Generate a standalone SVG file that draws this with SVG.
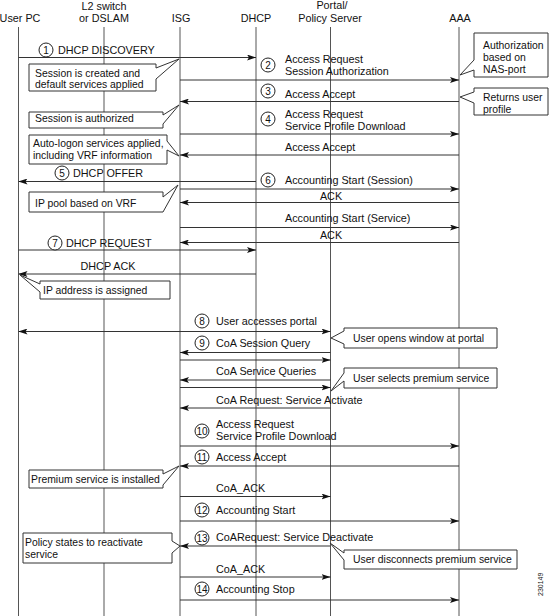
<svg xmlns="http://www.w3.org/2000/svg" width="550" height="616" viewBox="0 0 550 616">
<style>
text{font-family:"Liberation Sans",Arial,sans-serif;font-size:10.8px;fill:#111}
.mid{text-anchor:middle}
.life{stroke:#555;stroke-width:1}
.l2{stroke:#aaa;stroke-width:2}
.msg{stroke:#333;stroke-width:1;fill:none;marker-end:url(#ah)}
.bi{marker-start:url(#ah)}
.call{fill:#fff;stroke:#333;stroke-width:1}
#callouts text{font-size:10.4px}
.num circle{fill:#fff;stroke:#222;stroke-width:1}
.num text{font-size:10px;text-anchor:middle}
</style>
<defs>
<marker id="ah" viewBox="0 0 9 6" refX="9" refY="3" markerWidth="9" markerHeight="6" markerUnits="userSpaceOnUse" orient="auto-start-reverse">
<path d="M0,0 L9,3 L0,6 L2,3 Z" fill="#111"/>
</marker>
</defs>
<rect width="550" height="616" fill="#fff"/>
<g id="lifelines">
<g id="userpc"><text class="mid" x="20" y="22">User PC</text><line class="life" x1="18.5" y1="27" x2="18.5" y2="616"/></g>
<g id="l2switch"><text class="mid" x="104" y="10">L2 switch</text><text class="mid" x="104" y="22">or DSLAM</text><line class="l2" x1="104" y1="27" x2="104" y2="616"/></g>
<g id="isg"><text class="mid" x="181" y="22">ISG</text><line class="life" x1="180" y1="27" x2="180" y2="616"/></g>
<g id="dhcp"><text class="mid" x="256" y="22">DHCP</text><line class="life" x1="256" y1="27" x2="256" y2="616"/></g>
<g id="portal"><text class="mid" x="332" y="9">Portal/</text><text class="mid" x="330" y="22">Policy Server</text><line class="life" x1="330.5" y1="27" x2="330.5" y2="616"/></g>
<g id="aaa"><text class="mid" x="460" y="22">AAA</text><line class="life" x1="459" y1="27" x2="459" y2="616"/></g>
</g>
<g id="connectors">
<line class="msg" x1="18.5" y1="57.5" x2="256" y2="57.5"/>
<line class="msg" x1="180" y1="80" x2="459" y2="80"/>
<line class="msg" x1="459" y1="101.5" x2="180" y2="101.5"/>
<line class="msg" x1="180" y1="134" x2="459" y2="134"/>
<line class="msg" x1="459" y1="155" x2="180" y2="155"/>
<line class="msg" x1="256" y1="181.5" x2="18.5" y2="181.5"/>
<line class="msg" x1="180" y1="189" x2="459" y2="189"/>
<line class="msg" x1="459" y1="202.5" x2="180" y2="202.5"/>
<line class="msg" x1="180" y1="227.5" x2="459" y2="227.5"/>
<line class="msg" x1="459" y1="242.5" x2="180" y2="242.5"/>
<line class="msg" x1="18.5" y1="250" x2="256" y2="250"/>
<line class="msg" x1="256" y1="274" x2="18.5" y2="274"/>
<line class="msg bi" x1="18.5" y1="331.5" x2="330.5" y2="331.5"/>
<line class="msg" x1="330.5" y1="352.5" x2="180" y2="352.5"/>
<line class="msg" x1="180" y1="360" x2="330.5" y2="360"/>
<line class="msg" x1="330.5" y1="380" x2="180" y2="380"/>
<line class="msg" x1="180" y1="387.5" x2="330.5" y2="387.5"/>
<line class="msg" x1="330.5" y1="408" x2="180" y2="408"/>
<line class="msg" x1="180" y1="446" x2="459" y2="446"/>
<line class="msg" x1="459" y1="466" x2="180" y2="466"/>
<line class="msg" x1="180" y1="496.5" x2="330.5" y2="496.5"/>
<line class="msg" x1="180" y1="521" x2="459" y2="521"/>
<line class="msg" x1="330.5" y1="546" x2="180" y2="546"/>
<line class="msg" x1="180" y1="577" x2="330.5" y2="577"/>
<line class="msg" x1="180" y1="600" x2="459" y2="600"/>
</g>
<g id="labels">
<text x="58" y="54">DHCP DISCOVERY</text>
<text x="285" y="63">Access Request</text><text x="285" y="75">Session Authorization</text>
<text x="285" y="98">Access Accept</text>
<text x="285" y="118">Access Request</text><text x="285" y="130">Service Profile Download</text>
<text x="285" y="151">Access Accept</text>
<text x="73" y="177">DHCP OFFER</text>
<text x="285" y="184">Accounting Start (Session)</text>
<text class="mid" x="331" y="200">ACK</text>
<text x="285" y="222">Accounting Start (Service)</text>
<text class="mid" x="331" y="239">ACK</text>
<text x="66" y="247">DHCP REQUEST</text>
<text class="mid" x="108" y="270">DHCP ACK</text>
<text x="216" y="325">User accesses portal</text>
<text x="216" y="347">CoA Session Query</text>
<text x="216" y="375">CoA Service Queries</text>
<text x="216" y="404">CoA Request: Service Activate</text>
<text x="216" y="428">Access Request</text><text x="216" y="440">Service Profile Download</text>
<text x="216" y="461">Access Accept</text>
<text x="216" y="492">CoA_ACK</text>
<text x="216" y="514">Accounting Start</text>
<text x="216" y="541">CoARequest: Service Deactivate</text>
<text x="216" y="573">CoA_ACK</text>
<text x="216" y="593">Accounting Stop</text>
</g>
<g id="steps" class="num">
<g id="s1"><circle cx="46" cy="50" r="7"/><text x="46" y="53.5">1</text></g>
<g id="s2"><circle cx="268" cy="65" r="7"/><text x="268" y="68.5">2</text></g>
<g id="s3"><circle cx="268" cy="91" r="7"/><text x="268" y="94.5">3</text></g>
<g id="s4"><circle cx="268" cy="119" r="7"/><text x="268" y="122.5">4</text></g>
<g id="s5"><circle cx="62" cy="173" r="7"/><text x="62" y="176.5">5</text></g>
<g id="s6"><circle cx="268" cy="180" r="7"/><text x="268" y="183.5">6</text></g>
<g id="s7"><circle cx="55" cy="243" r="7"/><text x="55" y="246.5">7</text></g>
<g id="s8"><circle cx="202" cy="321" r="7"/><text x="202" y="324.5">8</text></g>
<g id="s9"><circle cx="202" cy="343" r="7"/><text x="202" y="346.5">9</text></g>
<g id="s10"><circle cx="202" cy="431" r="7"/><text x="202" y="434.5">10</text></g>
<g id="s11"><circle cx="202" cy="457" r="7"/><text x="202" y="460.5">11</text></g>
<g id="s12"><circle cx="202" cy="510" r="7"/><text x="202" y="513.5">12</text></g>
<g id="s13"><circle cx="202" cy="538" r="7"/><text x="202" y="541.5">13</text></g>
<g id="s14"><circle cx="202" cy="589" r="7"/><text x="202" y="592.5">14</text></g>
</g>
<g id="callouts">
<g id="c-session-created"><path class="call" d="M29,64 H156 V68 L179,59 L156,79 V91 H29 Z"/><text x="35" y="77">Session is created and</text><text x="35" y="88">default services applied</text></g>
<g id="c-authorized"><path class="call" d="M29,112 H163 V115 L179,105 L163,124 V128 H29 Z"/><text x="35" y="122">Session is authorized</text></g>
<g id="c-autologon"><path class="call" d="M29,135 H167 V141 L179,156 L167,150 V164 H29 Z"/><text x="33" y="147">Auto-logon services applied,</text><text x="33" y="159">including VRF information</text></g>
<g id="c-ippool"><path class="call" d="M29,192 H163 V197 L178,185 L163,212 H29 Z"/><text x="35" y="207">IP pool based on VRF</text></g>
<g id="c-ipaddr"><path class="call" d="M40,281 H170 V299 H40 V292 L20,275 L40,284 Z"/><text x="43" y="294">IP address is assigned</text></g>
<g id="c-nasport"><path class="call" d="M474,33 H548 V77 H474 V70 L460,75 L474,60 Z"/><text x="483" y="49">Authorization</text><text x="483" y="61">based on</text><text x="483" y="73">NAS-port</text></g>
<g id="c-returns"><path class="call" d="M474,88 H548 V115 H474 V103 L460,97 L474,92 Z"/><text x="483" y="101">Returns user</text><text x="483" y="113">profile</text></g>
<g id="c-opens"><path class="call" d="M344,328 H497 V348 H344 V344 L331,338 L344,331 Z"/><text x="353" y="342">User opens window at portal</text></g>
<g id="c-selects"><path class="call" d="M344,368 H497 V388 H344 V381 L331,391 L344,373 Z"/><text x="353" y="382">User selects premium service</text></g>
<g id="c-premium"><path class="call" d="M29,470 H163 V474 L179,466 L163,485 V488 H29 Z"/><text x="31" y="483">Premium service is installed</text></g>
<g id="c-policy"><path class="call" d="M23,533 H172 V541 L180,546 L172,553 V563 H23 Z"/><text x="25" y="546">Policy states to reactivate</text><text x="25" y="558">service</text></g>
<g id="c-disconnect"><path class="call" d="M344,550 H517 V569 H344 V560 L330,543 L344,553 Z"/><text x="353" y="563">User disconnects premium service</text></g>
</g>
<text x="0" y="0" transform="translate(543,596) rotate(-90)" style="font-size:7px">230149</text>
</svg>
